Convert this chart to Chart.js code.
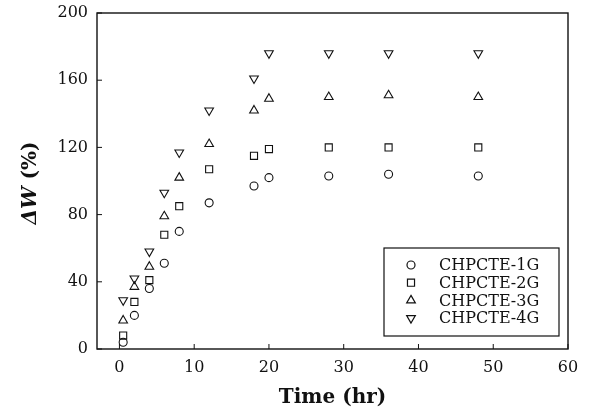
<!DOCTYPE html>
<html>
<head>
<meta charset="utf-8">
<script src="https://cdn.jsdelivr.net/npm/chart.js@4.4.0/dist/chart.umd.min.js"></script>
<style>
  html, body { margin: 0; padding: 0; background: #fff; }
  #wrap { width: 589px; height: 416px; }
</style>
</head>
<body>
<div id="wrap"><canvas id="grafico" width="589" height="416"></canvas></div>
<script>
// Datos
const tiempos = [0.5, 2, 4, 6, 8, 12, 18, 20, 28, 36, 48];
const serie1G = [4, 20, 36, 51, 70, 87, 97, 102, 103, 104, 103];
const serie2G = [8, 28, 41, 68, 85, 107, 115, 119, 120, 120, 120];
const serie3G = [17, 37, 49, 79, 102, 122, 142, 149, 150, 151, 150];
const serie4G = [29, 42, 58, 93, 117, 142, 161, 176, 176, 176, 176];
const nombres = ['CHPCTE-1G', 'CHPCTE-2G', 'CHPCTE-3G', 'CHPCTE-4G'];
const ticksX = [0, 10, 20, 30, 40, 50, 60];
const ticksY = [0, 40, 80, 120, 160, 200];

const tinta = '#111';
const fuente = 'DejaVu Serif';

function puntos(valores) {
    return tiempos.map((t, i) => ({ x: t, y: valores[i] }));
}

const estilos = [
    { pointStyle: 'circle', pointRadius: 4, pointRotation: 0 },
    { pointStyle: 'rect', pointRadius: 5, pointRotation: 0 },
    { pointStyle: 'triangle', pointRadius: 5, pointRotation: 0 },
    { pointStyle: 'triangle', pointRadius: 5, pointRotation: 180 }
];

const datasets = [serie1G, serie2G, serie3G, serie4G].map((serie, i) => ({
    label: nombres[i],
    data: puntos(serie),
    showLine: false,
    borderColor: tinta,
    backgroundColor: 'rgba(0,0,0,0)',
    pointBorderWidth: 1.1,
    ...estilos[i]
}));

// Marco, marcas hacia dentro, título Y y leyenda dentro del área
const decoracion = {
    id: 'decoracion',
    afterDraw(chart) {
        const ctx = chart.ctx;
        const a = chart.chartArea;
        const sx = chart.scales.x;
        const sy = chart.scales.y;
        ctx.save();
        ctx.strokeStyle = tinta;
        ctx.lineWidth = 1.4;
        ctx.strokeRect(a.left, a.top, a.right - a.left, a.bottom - a.top);

        ctx.lineWidth = 1;
        ctx.beginPath();
        ticksX.forEach(v => {
            const px = sx.getPixelForValue(v);
            ctx.moveTo(px, a.bottom);
            ctx.lineTo(px, a.bottom - 5);
        });
        ticksY.forEach(v => {
            const py = sy.getPixelForValue(v);
            ctx.moveTo(a.left, py);
            ctx.lineTo(a.left + 5, py);
        });
        ctx.stroke();

        // Título del eje Y: ΔW en cursiva
        const f1 = 'italic bold 20px "' + fuente + '"';
        const f2 = 'bold 20px "' + fuente + '"';
        ctx.font = f1;
        const w1 = ctx.measureText('ΔW').width;
        ctx.font = f2;
        const w2 = ctx.measureText(' (%)').width;
        ctx.translate(31, (a.top + a.bottom) / 2 + 2);
        ctx.rotate(-Math.PI / 2);
        ctx.fillStyle = tinta;
        ctx.textBaseline = 'middle';
        ctx.textAlign = 'left';
        let x0 = -(w1 + w2) / 2;
        ctx.font = f1;
        ctx.fillText('ΔW', x0, 0);
        ctx.font = f2;
        ctx.fillText(' (%)', x0 + w1, 0);
        ctx.setTransform(1, 0, 0, 1, 0, 0);

        // Leyenda
        const ancho = 175, alto = 88;
        const lx = a.right - 9 - ancho;
        const ly = a.bottom - 13 - alto;
        ctx.lineWidth = 1.2;
        ctx.fillStyle = '#fff';
        ctx.fillRect(lx, ly, ancho, alto);
        ctx.strokeRect(lx, ly, ancho, alto);
        ctx.font = '16px "' + fuente + '"';
        ctx.textBaseline = 'middle';
        chart.data.datasets.forEach((ds, i) => {
            const yy = ly + 17 + i * 17.7;
            ctx.fillStyle = 'rgba(0,0,0,0)';
            ctx.strokeStyle = tinta;
            Chart.helpers.drawPoint(ctx, {
                pointStyle: ds.pointStyle,
                radius: ds.pointRadius,
                rotation: ds.pointRotation,
                borderWidth: 1.1
            }, lx + 27, yy);
            ctx.fillStyle = tinta;
            ctx.fillText(ds.label, lx + 55, yy + 1);
        });
        ctx.restore();
    }
};

const ctx = document.getElementById('grafico').getContext('2d');
new Chart(ctx, {
    type: 'scatter',
    data: { datasets: datasets },
    plugins: [decoracion],
    options: {
        responsive: false,
        animation: false,
        devicePixelRatio: 1,
        layout: { padding: { top: 13, right: 21, left: 0, bottom: 0 } },
        plugins: {
            legend: { display: false },
            tooltip: { enabled: false }
        },
        scales: {
            x: {
                type: 'linear',
                min: -3,
                max: 60,
                afterBuildTicks: scale => { scale.ticks = ticksX.map(v => ({ value: v })); },
                afterFit: scale => {
                    scale.height = 67;
                    scale.paddingLeft = 0;
                    scale.paddingRight = 0;
                },
                grid: { display: false, drawTicks: false },
                border: { display: false },
                ticks: {
                    padding: 9,
                    color: tinta,
                    font: { family: fuente, size: 16 }
                },
                title: {
                    display: true,
                    text: 'Time (hr)',
                    color: tinta,
                    padding: { top: 0, bottom: 6 },
                    font: { family: fuente, size: 20, weight: 'bold' }
                }
            },
            y: {
                type: 'linear',
                min: 0,
                max: 200,
                afterBuildTicks: scale => { scale.ticks = ticksY.map(v => ({ value: v })); },
                afterFit: scale => {
                    scale.width = 97;
                    scale.paddingTop = 0;
                    scale.paddingBottom = 0;
                },
                grid: { display: false, drawTicks: false },
                border: { display: false },
                ticks: {
                    padding: 9,
                    color: tinta,
                    font: { family: fuente, size: 16 }
                }
            }
        }
    }
});
</script>
</body>
</html>
